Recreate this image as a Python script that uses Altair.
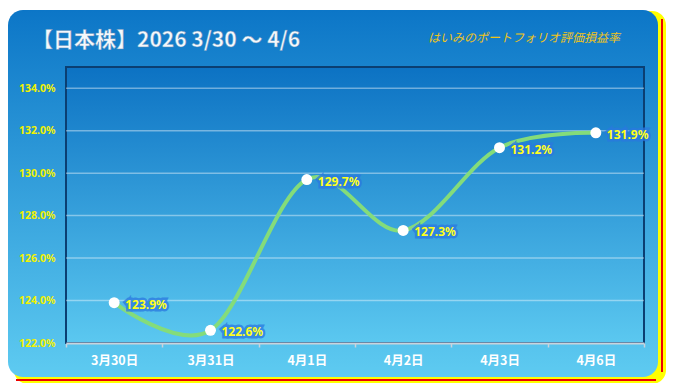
import altair as alt
import pandas as pd

# ---- data ----
dates = ["3月30日", "3月31日", "4月1日", "4月2日", "4月3日", "4月6日"]
values = [123.9, 122.6, 129.7, 127.3, 131.2, 131.9]
y_ticks = [122, 124, 126, 128, 130, 132, 134]
title_text = "【日本株】2026 3/30 ～ 4/6"
subtitle_text = "はいみのポートフォリオ評価損益率"

df = pd.DataFrame({
    "date": dates,
    "value": [v / 100 for v in values],
    "label": [f"{v:.1f}%" for v in values],
})
grid_df = pd.DataFrame({"g": [t / 100 for t in y_ticks[1:]]})

W, H = 578, 276
one = alt.Data(values=[{}])

yscale = alt.Scale(domain=[1.22, 1.35], nice=False, zero=False)
yaxis = alt.Axis(values=[t / 100 for t in y_ticks], format=".1%", labelColor="#f2f200",
                 labelFontWeight="bold", labelFontSize=10.5, labelFont="Noto Sans",
                 labelPadding=11, domain=False, ticks=False, grid=False, title=None, zindex=1)
xaxis = alt.Axis(labelAngle=0, labelColor="white", labelFontWeight="bold", labelFontSize=12.5,
                 labelFont="Noto Sans CJK JP", domainColor="#c9d3dc", domainWidth=2,
                 tickColor="#c9d3dc", tickSize=4, tickWidth=1.5, tickBand="extent",
                 labelPadding=7, title=None, zindex=1, grid=False)
xenc = alt.X("date:N", sort=dates, scale=alt.Scale(paddingInner=0, paddingOuter=0), axis=xaxis)
yenc = alt.Y("value:Q", scale=yscale, axis=yaxis)

def grad(c0, c1):
    return {"gradient": "linear", "x1": 0, "x2": 0, "y1": 0, "y2": 1,
            "stops": [{"offset": 0, "color": c0}, {"offset": 1, "color": c1}]}

# decorative frame
frame = alt.Chart(one).mark_rect(color="#ffff00", cornerRadius=14).encode(
    x=alt.value(-52), x2=alt.value(600), y=alt.value(-56), y2=alt.value(317))
red_h = alt.Chart(one).mark_rule(color="#ee0000", strokeWidth=2).encode(
    x=alt.value(-50), x2=alt.value(590), y=alt.value(313))
red_v = alt.Chart(one).mark_rule(color="#ee0000", strokeWidth=2).encode(
    x=alt.value(596), y=alt.value(-48), y2=alt.value(305))
panel = alt.Chart(one).mark_rect(color=grad("#0c76c7", "#5ecbf1"), cornerRadius=15).encode(
    x=alt.value(-58), x2=alt.value(592), y=alt.value(-57), y2=alt.value(310))
plotbg = alt.Chart(one).mark_rect(color=grad("#0c72c3", "#5bc8f0"), stroke="#0b3f72",
                                  strokeWidth=2).encode(
    x=alt.value(0), x2=alt.value(W), y=alt.value(0), y2=alt.value(H))

title = alt.Chart(one).mark_text(text=title_text, align="left", baseline="middle",
                                 font="Noto Sans CJK JP", fontSize=21, fontWeight="bold",
                                 color="#f4f8fc", stroke="#5a8cb8", strokeWidth=0.4).encode(
    x=alt.value(-34), y=alt.value(-26))
subtitle = alt.Chart(one).mark_text(text=subtitle_text, align="left", baseline="middle",
                                    font="Noto Sans CJK JP", fontSize=12, fontStyle="italic",
                                    color="#f0c418").encode(
    x=alt.value(362), y=alt.value(-29))

grid = alt.Chart(grid_df).mark_rule(color="white", opacity=0.4, strokeWidth=1.5).encode(
    y=alt.Y("g:Q", scale=yscale, axis=yaxis))

base = alt.Chart(df).encode(x=xenc, y=yenc)
line = base.mark_line(interpolate="cardinal", color="#84dc7a", strokeWidth=4)
pts = base.mark_circle(color="white", opacity=1, size=120)
halo = base.mark_text(align="left", baseline="middle", dx=11, dy=2, font="Noto Sans",
                      fontWeight="bold", fontSize=12, color="#2a78e0", stroke="#2a78e0",
                      strokeWidth=5, opacity=0.75).encode(text="label:N")
labels = base.mark_text(align="left", baseline="middle", dx=11, dy=2, font="Noto Sans",
                        fontWeight="bold", fontSize=12, color="#ffff1a").encode(text="label:N")

chart = alt.layer(frame, red_h, red_v, panel, plotbg, title, subtitle,
                  grid, line, pts, halo, labels).properties(
    width=W, height=H,
    autosize=alt.AutoSizeParams(type="none"),
    padding={"left": 58, "top": 59, "right": 22, "bottom": 40},
    background="white",
).configure_view(stroke=None)

chart.save("out.html", embed_options={"renderer": "svg", "actions": False})
